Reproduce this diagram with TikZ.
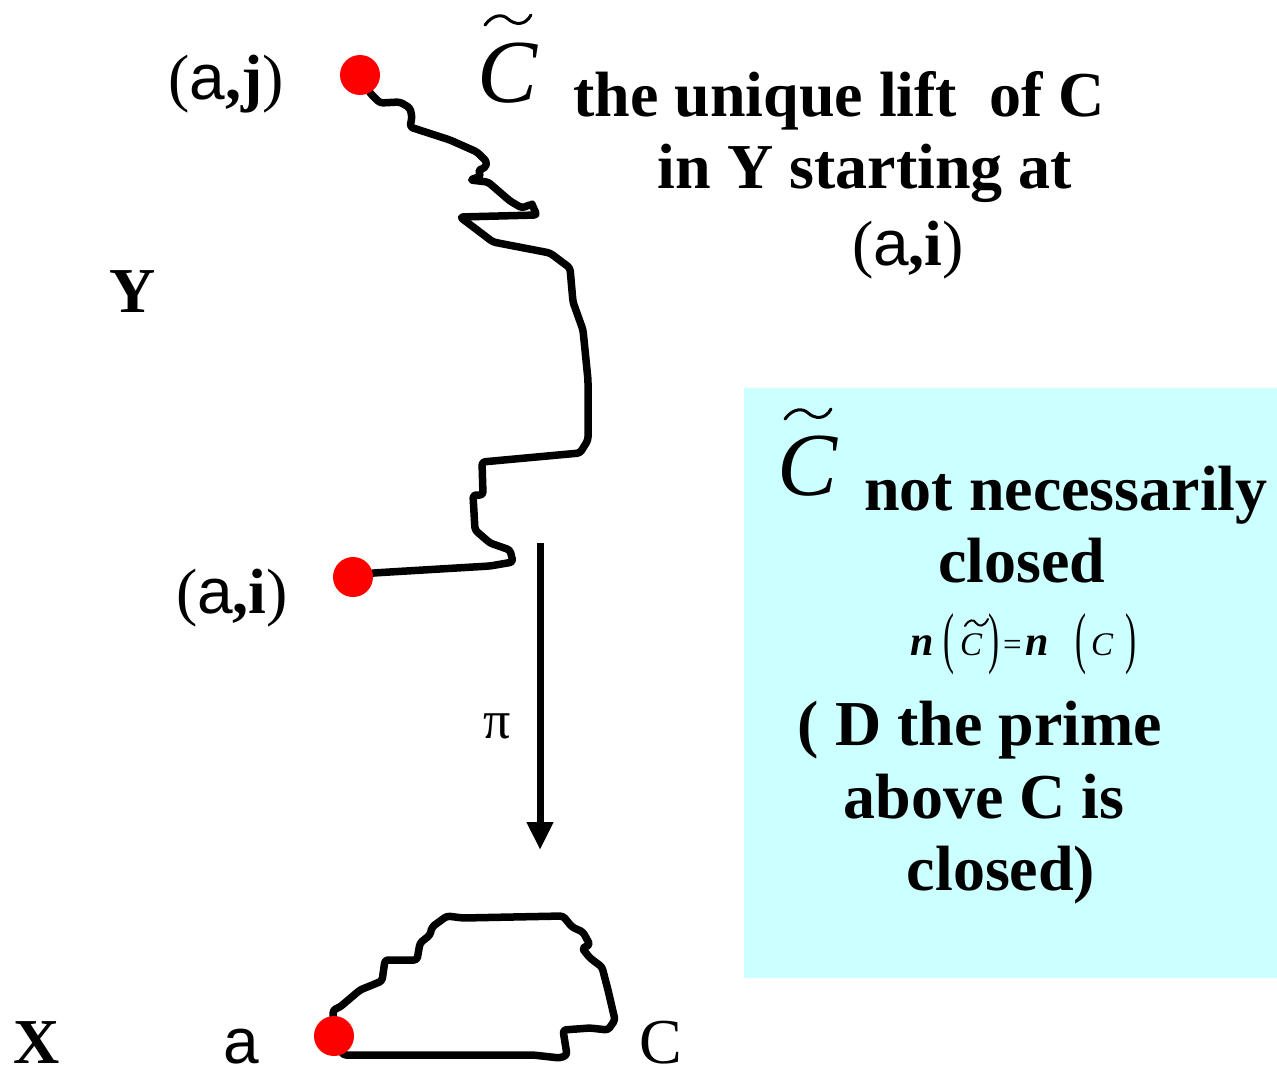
\documentclass[tikz,border=0pt]{standalone}
\usepackage{fontspec}
\setmainfont{Liberation Serif}
\setsansfont{Liberation Sans}
\usetikzlibrary{arrows.meta}
\definecolor{boxcyan}{HTML}{CCFFFF}
\newcommand\fLp{\raisebox{-5pt}{\scalebox{1}[2.05]{(}}}
\newcommand\fRp{\raisebox{-5pt}{\scalebox{1}[2.05]{)}}}
\newcommand\fN{{\fontsize{42}{42}\selectfont\bfseries\itshape n}}
\begin{document}
\begin{tikzpicture}[x=1pt,y=-1pt,
  lbl/.style={anchor=base,inner sep=0pt,text depth=0pt,font=\fontsize{64}{70}\selectfont},
  blbl/.style={anchor=base,inner sep=0pt,text depth=0pt,font=\fontsize{64}{70}\selectfont\bfseries},
  bigc/.style={anchor=base,inner sep=0pt,font=\fontsize{90}{95}\selectfont\itshape},
  curve/.style={line width=7.5pt,line join=round,line cap=round,rounded corners=3pt},
  dot/.style={circle,fill=red,minimum size=40pt,inner sep=0pt},
  tildemark/.pic={\draw[line cap=round] (0,0) .. controls (8,-11) and (18,-11) .. (23,-6) .. controls (30,0) and (40,1) .. (46,-10);}
]
\useasboundingbox (0,0) rectangle (1277,1070);
% cyan box
\node[fill=boxcyan,minimum width=533pt,minimum height=590pt,anchor=north west,inner sep=0pt,draw=none] (box) at (744,388) {};

% point positions
\coordinate (pj) at (360,75);
\coordinate (pi) at (353,577);
\coordinate (pa) at (334,1036);

% lifted curve in Y
\draw[curve] (pj) -- (370,93) -- (380,103) -- (400,102) -- (410,108) -- (412,117) -- (410,127)
  -- (450,140) -- (477,152) -- (487,162) -- (485,168) -- (478,170) -- (481,176) -- (470,180)
  -- (488,182) -- (510,201) -- (522,208) -- (532,204) -- (533,207) -- (537,215) -- (460,217)
  -- (493,242) -- (550,253) -- (570,268) -- (573,302) -- (583,330) -- (588,380) -- (588,440)
  -- (580,453) -- (482,462) -- (483,495) -- (473,495) -- (475,530) -- (490,543) -- (510,550)
  -- (513,562) -- (490,566) -- (373,573) -- (pi);

% closed curve C in X
\draw[curve] (pa) -- (333,1010) -- (340,1007) -- (360,990) -- (382,981) -- (385,960) -- (417,960)
  -- (420,943) -- (430,935) -- (432,927) -- (447,916) -- (463,918) -- (563,916) -- (572,927)
  -- (583,932) -- (590,945) -- (582,948) -- (590,958) -- (602,967) -- (608,990) -- (615,1020)
  -- (608,1030) -- (590,1028) -- (563,1030) -- (567,1055) -- (560,1058) -- (533,1055)
  -- (343,1055) -- (pa);

% dots
\node[dot] (dj) at (pj) {};
\node[dot] (di) at (pi) {};
\node[dot] (da) at (pa) {};

% projection arrow
\coordinate (as) at (540,543);
\coordinate (ae) at (540,850);
\draw[line width=7pt,-{Triangle[width=25pt,length=28pt]}] (as) -- (ae);
\node[anchor=base,inner sep=0pt,font=\fontsize{54}{58}\selectfont] (pi-lbl) at (497,738) {π};

% labels
\node[lbl] (laj) at (226,100) {({\sffamily a}\textbf{,j})};
\node[lbl] (lai) at (232,613) {({\sffamily a}\textbf{,i})};
\node[blbl] (lY) at (133,312) {Y};
\node[blbl] (lX) at (37,1063) {X};
\node[lbl] (la) at (241,1063) {\sffamily a};
\node[lbl] (lC) at (661,1063) {C};

% top C tilde and description
\node[bigc] (ct) at (508,103) {C};
\pic[line width=3pt] at (485,25) {tildemark};
\node[blbl] (t1) at (839,117) {the unique lift\ \ of C};
\node[blbl] (t2) at (865,188) {in Y starting at};
\node[lbl] (t3) at (908,265) {({\sffamily a}\textbf{,i})};

% box text
\node[bigc] (cb) at (808,495) {C};
\pic[line width=3pt] at (785,419) {tildemark};
\node[blbl] (b1) at (1066,510) {not necessarily};
\node[blbl] (b2) at (1022,582) {closed};
\node[anchor=base west,inner sep=0pt,font=\fontsize{33}{38}\selectfont] (fm) at (910,655)
  {\makebox[33pt][l]{\fN}\makebox[17pt][l]{\fLp}\makebox[28pt][l]{\textit{C}}\makebox[15pt][l]{\fRp}\makebox[22pt][l]{=}\makebox[50pt][l]{\fN}\makebox[16pt][l]{\fLp}\makebox[34pt][l]{\textit{C}}\fRp};
\draw[line width=2pt,line cap=round] (965,626) .. controls (969,619) and (974,619) .. (976,623) .. controls (979,627) and (984,627) .. (988,619);
\node[blbl] (b3) at (980,745) {( D the prime};
\node[blbl] (b4) at (984,818) {above C is};
\node[blbl] (b5) at (1001,890) {closed)};
\end{tikzpicture}
\end{document}
